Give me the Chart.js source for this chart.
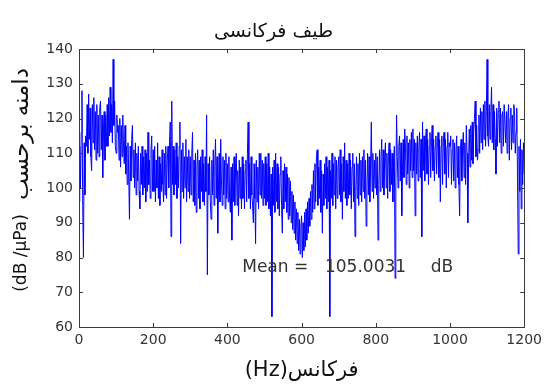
<!DOCTYPE html>
<html>
<head>
<meta charset="utf-8">
<script src="https://cdn.jsdelivr.net/npm/chart.js@4.4.1/dist/chart.umd.min.js"></script>
<style>
  html, body { margin: 0; padding: 0; background: #fff; }
  #wrap { width: 547px; height: 385px; }
</style>
</head>
<body>
<div id="wrap"><canvas id="spectrumChart" width="547" height="385"></canvas></div>
<script>
// Spectrum levels in dB, one value every 2 Hz, grouped by 100 Hz band
const freqStep = 2;
const levels000 = [96, 112, 100, 116, 128, 95, 80, 113, 98, 115,
  112, 124, 110, 127, 114, 123, 109, 105, 124, 113, 126, 111, 122, 108, 124,
  110, 121, 109, 123, 125, 111, 121, 103, 117, 122, 108, 121, 112,
  124, 112, 126, 115, 129, 116, 124, 113, 137, 118, 125, 112];
const levels100 = [110, 121, 116, 118, 108, 120, 106, 118, 109, 121, 112, 107, 118,
  104, 112, 101, 113, 104, 91, 112, 102, 114, 118, 103, 111, 100, 113, 98, 110, 102, 112, 99, 94, 110, 101, 112,
  98, 109, 100, 111, 96, 110, 99, 116, 101, 108, 97, 111, 115, 99];
const levels200 = [111, 99, 112, 96, 108, 100, 113, 97, 109, 95, 107, 99, 111, 101, 96, 110, 98, 112, 97, 108,
  112, 100, 113, 119, 86, 125, 101, 112, 98, 111, 101, 113, 97, 109, 100, 112,
  119, 84, 111, 99, 113, 97, 109, 100, 114, 96, 109, 99, 111, 97];
const levels300 = [109, 98, 110, 116, 96, 108, 95, 110, 93, 106, 111, 97, 108, 94, 109, 99, 111, 96, 107, 95,
  109, 99, 121, 75, 107, 98,
  109, 96, 91, 108, 98, 111, 95, 107, 114, 97, 109, 87, 100, 110, 96, 114, 102, 95, 109, 98, 108, 94, 110, 97];
const levels400 = [107, 96, 109, 97, 93, 106, 85, 107, 96, 109, 95, 106, 110, 95, 105, 92, 108, 97, 106, 94, 109, 97, 107, 94, 105,
  108, 96, 110, 119, 97, 107, 94, 109, 98, 95, 90, 107, 97, 84, 108, 96, 106, 94, 110, 98, 110, 97, 108, 95, 107];
const levels500 = [97, 109, 95, 107, 96, 110, 94, 106, 92, 104,
  63, 106, 95, 108, 93, 110, 96, 107, 94, 106, 92, 104, 109, 95, 87, 105, 94, 107, 96, 106, 93, 104, 91,
  103, 92, 102, 90, 99, 88, 98, 87, 96, 85, 94, 84, 93, 82, 91, 81, 89];
const levels600 = [92, 80, 90, 82, 93, 83, 94, 85, 96, 87, 97, 89, 99, 91, 101, 93,
  105, 94, 107, 96, 109, 111, 95, 106, 97, 108, 93, 105, 87, 104, 95, 107, 97, 109, 94, 106, 96, 108,
  63, 105, 97, 110, 95, 107, 98, 109, 94, 108, 97, 106];
const levels700 = [109, 98, 111, 96, 107, 91, 109, 99, 113, 97, 108, 95,
  107, 97, 110, 98, 108, 94, 106, 110, 96, 107, 86, 99, 109, 97, 107, 95, 110, 98, 108,
  96, 109, 99, 111, 97, 108, 89, 100, 110, 98, 109, 96, 107, 119, 99, 110, 97, 108, 100];
const levels800 = [110, 98, 109, 85, 101, 111, 99, 109, 114, 100, 111, 98, 109, 113, 100, 110, 97,
  109, 113, 99, 111, 101, 110, 96, 108, 112, 74, 100, 121, 109, 100,
  112, 115, 102, 113, 92, 105, 114, 103, 117, 112, 101, 115, 104, 113, 100, 114, 105, 116, 103];
const levels900 = [117, 105, 114, 92, 113, 104, 115, 102,
  112, 116, 103, 114, 86, 119, 105, 115, 102, 113, 117, 104, 114, 101, 112, 116, 103, 113, 118, 105, 114, 102, 112, 115, 104, 113,
  116, 103, 114, 96, 112, 115, 101, 113, 116, 104, 114, 100, 112, 116, 103, 113];
const levels1000 = [112, 115, 101, 111, 114, 102, 113, 100, 111, 115, 103, 112, 101, 92, 111, 114, 102, 112, 116, 103, 113, 101, 118, 110, 90,
  107, 117, 106, 118, 108, 119, 107, 116, 120, 125, 109, 118, 108,
  111, 121, 110, 123, 113, 122, 111, 124, 114, 125, 112, 122];
const levels1100 = [137, 115, 112, 124, 114, 122, 129, 113, 124, 111, 122, 114, 104, 123, 112, 122, 125, 113, 123, 110, 121,
  122, 112, 124, 124, 113, 122, 110, 121, 124, 108, 120, 123, 111, 121, 113, 124, 122, 110,
  116, 123, 103, 81, 112, 99, 114, 94, 111, 101, 113];
const levels1200 = [104];

const xTicks = [0, 200, 400, 600, 800, 1000, 1200];
const yTicks = [60, 70, 80, 90, 100, 110, 120, 130, 140];
const meanLevel = '105.0031';

const spectrumLevels = [].concat(levels000, levels100, levels200, levels300, levels400, levels500,
  levels600, levels700, levels800, levels900, levels1000, levels1100, levels1200);
const points = spectrumLevels.map((v, i) => ({ x: i * freqStep, y: v }));

const textColor = '#333';
const arabicFont = '"DejaVu Sans", "Noto Sans", sans-serif';

// box, inward ticks, titles and the mean annotation
const framePlugin = {
  id: 'frame',
  afterDraw(chart) {
    const ctx = chart.ctx;
    const area = chart.chartArea;
    const xs = chart.scales.x, ys = chart.scales.y;
    ctx.save();
    ctx.strokeStyle = '#3a3a3a';
    ctx.lineWidth = 1;
    ctx.strokeRect(Math.round(area.left) + 0.5, Math.round(area.top) + 0.5,
      Math.round(area.right - area.left), Math.round(area.bottom - area.top));

    ctx.beginPath();
    xTicks.forEach(t => {
      const px = Math.round(xs.getPixelForValue(t)) + 0.5;
      ctx.moveTo(px, area.bottom); ctx.lineTo(px, area.bottom - 4);
      ctx.moveTo(px, area.top); ctx.lineTo(px, area.top + 4);
    });
    yTicks.forEach(t => {
      const py = Math.round(ys.getPixelForValue(t)) + 0.5;
      ctx.moveTo(area.left, py); ctx.lineTo(area.left + 4, py);
      ctx.moveTo(area.right, py); ctx.lineTo(area.right - 4, py);
    });
    ctx.stroke();

    ctx.fillStyle = '#111';
    ctx.textAlign = 'center';
    ctx.textBaseline = 'middle';
    ctx.font = '19px ' + arabicFont;
    ctx.fillText('طيف فرکانسی', chart.width / 2, 32);

    ctx.font = '21px ' + arabicFont;
    ctx.fillText('(Hz)فرکانس', (area.left + area.right) / 2, 371);

    // y axis title: Persian words on top, unit below
    ctx.save();
    ctx.translate(22, 0);
    ctx.rotate(-Math.PI / 2);
    ctx.font = '23px ' + arabicFont;
    ctx.fillText('دامنه برحسب', -134, 0);
    ctx.font = '17px ' + arabicFont;
    ctx.fillText('(dB /µPa)', -253, 0);
    ctx.restore();

    // mean value label
    ctx.fillStyle = textColor;
    ctx.textAlign = 'left';
    ctx.font = '17px "DejaVu Sans", sans-serif';
    const my = ys.getPixelForValue(77);
    ctx.fillText('Mean =', xs.getPixelForValue(440), my);
    ctx.fillText(meanLevel, xs.getPixelForValue(663), my);
    ctx.fillText('dB', xs.getPixelForValue(948), my);
    ctx.restore();
  }
};

new Chart(document.getElementById('spectrumChart'), {
  type: 'line',
  data: {
    datasets: [{
      data: points,
      borderColor: '#0000ff',
      borderWidth: 1,
      pointRadius: 0,
      tension: 0,
      fill: false
    }]
  },
  options: {
    responsive: false,
    animation: false,
    devicePixelRatio: 1,
    layout: { padding: { top: 49, right: 22, left: 0, bottom: 0 } },
    plugins: { legend: { display: false }, tooltip: { enabled: false } },
    scales: {
      x: {
        type: 'linear',
        min: 0,
        max: 1200,
        afterFit(scale) { scale.height = 58; },
        afterBuildTicks(scale) { scale.ticks = xTicks.map(v => ({ value: v })); },
        grid: { display: false, drawTicks: false },
        border: { display: false },
        ticks: {
          padding: 5, color: textColor, maxRotation: 0,
          font: { family: 'DejaVu Sans', size: 14 },
          callback: v => String(v)
        }
      },
      y: {
        min: 60,
        max: 140,
        afterFit(scale) { scale.width = 79; },
        afterBuildTicks(scale) { scale.ticks = yTicks.map(v => ({ value: v })); },
        grid: { display: false, drawTicks: false },
        border: { display: false },
        ticks: { padding: 6, color: textColor, font: { family: 'DejaVu Sans', size: 14 } }
      }
    }
  },
  plugins: [framePlugin]
});
</script>
</body>
</html>
